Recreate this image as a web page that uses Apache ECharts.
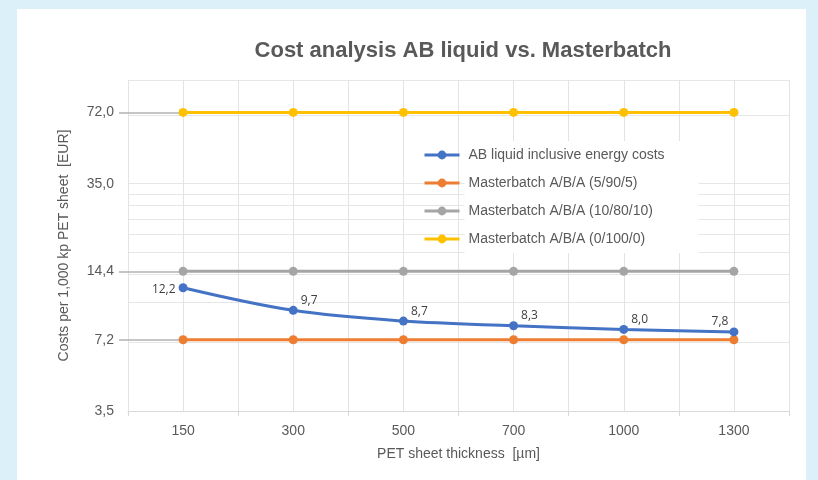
<!DOCTYPE html>
<html>
<head>
<meta charset="utf-8">
<script src="https://cdn.jsdelivr.net/npm/echarts@6/dist/echarts.min.js"></script>
<style>
  html, body { margin: 0; padding: 0; }
  #chart { width: 818px; height: 480px; }
</style>
</head>
<body>
<div id="chart"></div>
<script>
// Categories: sheet thickness in µm
const categories = ['150', '300', '500', '700', '1000', '1300'];

// Cost per 1,000 kp PET sheet [EUR]
const abLiquid   = [12.2, 9.7, 8.7, 8.3, 8.0, 7.8];
const mb5_90_5   = [7.2, 7.2, 7.2, 7.2, 7.2, 7.2];
const mb10_80_10 = [14.4, 14.4, 14.4, 14.4, 14.4, 14.4];
const mb0_100_0  = [72.0, 72.0, 72.0, 72.0, 72.0, 72.0];

// Y axis (log scale) labels, gridlines and reference ticks
const yLabelValues = [3.5, 7.2, 14.4, 35.0, 72.0];
const yGridValues  = [3.5, 7, 10.5, 14, 17.5, 21, 24.5, 28, 31.5, 35, 70, 100];
const yRefValues   = [7.2, 14.4, 72.0];

const seriesNames = [
  'AB liquid inclusive energy costs',
  'Masterbatch A/B/A (5/90/5)',
  'Masterbatch A/B/A (10/80/10)',
  'Masterbatch A/B/A (0/100/0)'
];

const textColor = '#595959';
const fontFamily = '"Liberation Sans", Arial, sans-serif';
const fmt = v => Number(v).toFixed(1).replace('.', ',');

const logAxisBase = { type: 'log', logBase: 10, min: 3.5, max: 100 };

const chart = echarts.init(document.getElementById('chart'));

function lineSeries(name, data, color, extra) {
  return Object.assign({
    name: name,
    type: 'line',
    data: data,
    yAxisIndex: 0,
    xAxisIndex: 0,
    symbol: 'circle',
    symbolSize: 9,
    lineStyle: { width: 3, color: color },
    itemStyle: { color: color },
    z: 5
  }, extra || {});
}

const abData = abLiquid.map((v, i) => {
  const item = { value: v };
  if (i === 0) item.label = { position: 'left', offset: [0, 2] };
  if (i === abLiquid.length - 1) item.label = { position: 'left', offset: [2, -10] };
  return item;
});

chart.setOption({
  backgroundColor: '#dcf0fa',
  animation: false,
  textStyle: { fontFamily: fontFamily },
  graphic: [{
    type: 'rect',
    shape: { x: 17, y: 9, width: 789, height: 480 },
    style: { fill: '#ffffff' },
    z: -10
  }],
  title: {
    text: 'Cost analysis AB liquid vs. Masterbatch',
    left: 458,
    textAlign: 'center',
    top: 35,
    textStyle: { fontSize: 22, fontWeight: 'bold', color: textColor, fontFamily: fontFamily }
  },
  legend: {
    data: seriesNames,
    orient: 'vertical',
    left: 423,
    top: 141,
    padding: 0,
    itemWidth: 35,
    itemHeight: 11,
    itemGap: 0,
    lineStyle: { width: 3 },
    textStyle: {
      fontSize: 14,
      color: textColor,
      backgroundColor: '#ffffff',
      width: 226,
      padding: [7, 4, 7, 4],
      lineHeight: 14
    }
  },
  grid: { left: 128, right: 29, top: 80, bottom: 69 },
  xAxis: [{
    type: 'category',
    data: categories,
    boundaryGap: true,
    name: 'PET sheet thickness  [µm]',
    nameLocation: 'middle',
    nameGap: 36,
    nameTextStyle: { fontSize: 14, color: textColor },
    axisLine: { lineStyle: { color: '#d9d9d9', width: 1 } },
    axisTick: { show: true, length: 5, lineStyle: { color: '#d9d9d9' } },
    axisLabel: { fontSize: 14, color: textColor, margin: 13 },
    splitLine: { show: false }
  }, {
    // vertical gridlines at category centres and boundaries
    type: 'value',
    min: 0,
    max: 12,
    interval: 1,
    position: 'bottom',
    axisLine: { show: false },
    axisTick: { show: false },
    axisLabel: { show: false },
    splitLine: { show: true, lineStyle: { color: '#e3e3e3', width: 1 } }
  }],
  yAxis: [Object.assign({}, logAxisBase, {
    name: 'Costs per 1,000 kp PET sheet  [EUR]',
    nameLocation: 'middle',
    nameGap: 57,
    nameTextStyle: { fontSize: 14, color: textColor },
    axisLine: { show: false },
    axisTick: { show: false, customValues: yGridValues },
    axisLabel: {
      customValues: yLabelValues,
      formatter: v => fmt(v),
      fontSize: 14,
      color: textColor,
      margin: 14
    },
    splitLine: { show: true, lineStyle: { color: '#e6e6e6', width: 1 } }
  }), Object.assign({}, logAxisBase, {
    // short outer ticks at the reference values
    position: 'left',
    axisLine: { show: false },
    axisLabel: { show: false },
    axisTick: { show: true, customValues: yRefValues, length: 9, inside: false,
                lineStyle: { color: '#b3b3b3', width: 1.5 } },
    splitLine: { show: false }
  }), Object.assign({}, logAxisBase, {
    // reference lines running from the axis to the first point
    position: 'left',
    axisLine: { show: false },
    axisLabel: { show: false },
    axisTick: { show: true, customValues: yRefValues, length: 55, inside: true,
                lineStyle: { color: '#b3b3b3', width: 1.5 } },
    splitLine: { show: false }
  })],
  series: [
    lineSeries(seriesNames[0], abData, '#4472c4', {
      smooth: 0.35,
      z: 6,
      label: {
        show: true,
        position: 'right',
        distance: 3,
        offset: [0, -10],
        formatter: p => fmt(p.value),
        fontSize: 12,
        color: '#404040',
        fontFamily: '"Open Sans", sans-serif'
      }
    }),
    lineSeries(seriesNames[1], mb5_90_5, '#ed7d31'),
    lineSeries(seriesNames[2], mb10_80_10, '#a5a5a5'),
    lineSeries(seriesNames[3], mb0_100_0, '#ffc000')
  ]
});
</script>
</body>
</html>
